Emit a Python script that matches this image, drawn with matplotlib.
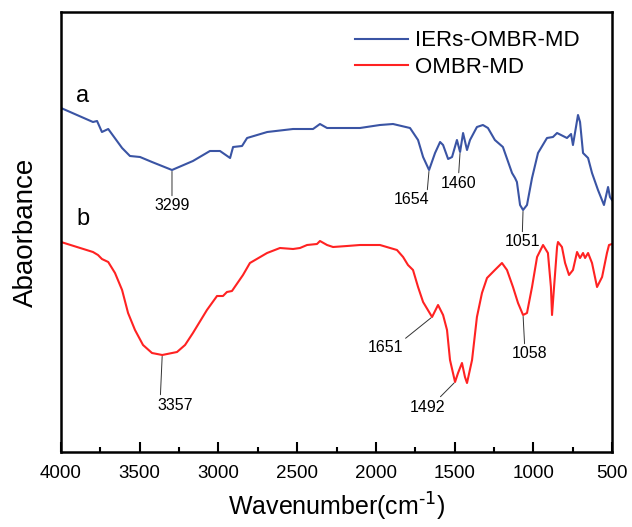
import numpy as np
import matplotlib
matplotlib.use("Agg")
import matplotlib.pyplot as plt
from matplotlib.ticker import MultipleLocator

plt.rcParams['font.family'] = ['Liberation Sans', 'DejaVu Sans']

# curve a: IERs-OMBR-MD (arbitrary absorbance units)
wn_a = [4000, 3797, 3771, 3740, 3700, 3612, 3562, 3498, 3422, 3295, 3162, 3054,
        2990, 2926, 2907, 2850, 2818, 2690, 2526, 2399, 2355, 2310, 2101, 1974,
        1891, 1783, 1732, 1700, 1662, 1624, 1592, 1573, 1541, 1516, 1485, 1465,
        1446, 1421, 1402, 1358, 1320, 1288, 1244, 1193, 1135, 1116, 1104, 1084,
        1065, 1040, 1008, 970, 913, 875, 849, 786, 760, 748, 716, 703, 684, 652,
        627, 589, 551, 525, 513, 500]
abs_a = [3.44, 3.30, 3.31, 3.20, 3.23, 3.04, 2.96, 2.95, 2.90, 2.82, 2.91, 3.01,
         3.01, 2.94, 3.05, 3.06, 3.14, 3.20, 3.23, 3.23, 3.28, 3.24, 3.24, 3.27,
         3.28, 3.24, 3.12, 2.95, 2.82, 2.99, 3.10, 3.07, 2.93, 2.95, 3.12, 3.00,
         3.19, 3.02, 3.12, 3.25, 3.27, 3.24, 3.12, 3.05, 2.79, 2.74, 2.70, 2.47,
         2.42, 2.47, 2.74, 2.99, 3.14, 3.15, 3.19, 3.14, 3.18, 3.07, 3.37, 3.30,
         2.99, 2.94, 2.79, 2.62, 2.47, 2.65, 2.55, 2.52]

# curve b: OMBR-MD
wn_b = [4000, 3797, 3765, 3740, 3700, 3657, 3612, 3574, 3530, 3479, 3422, 3357,
        3263, 3212, 3162, 3073, 3009, 2971, 2946, 2914, 2844, 2800, 2691, 2609,
        2526, 2482, 2437, 2374, 2355, 2310, 2272, 2183, 2101, 1974, 1866, 1827,
        1796, 1764, 1732, 1700, 1643, 1605, 1573, 1548, 1529, 1497, 1478, 1453,
        1434, 1421, 1389, 1358, 1326, 1294, 1244, 1199, 1167, 1129, 1097, 1065,
        1040, 1008, 976, 938, 907, 888, 881, 868, 849, 843, 818, 798, 773, 748,
        722, 703, 684, 671, 652, 627, 595, 563, 532, 519, 500]
abs_b = [2.10, 2.00, 1.97, 1.93, 1.90, 1.79, 1.62, 1.39, 1.22, 1.07, 0.99, 0.97,
         1.00, 1.07, 1.19, 1.42, 1.56, 1.56, 1.60, 1.61, 1.77, 1.89, 1.99, 2.04,
         2.03, 2.04, 2.07, 2.08, 2.11, 2.07, 2.05, 2.06, 2.07, 2.07, 2.02, 1.95,
         1.87, 1.82, 1.65, 1.50, 1.35, 1.47, 1.37, 1.22, 0.92, 0.70, 0.79, 0.89,
         0.75, 0.69, 0.92, 1.35, 1.59, 1.74, 1.82, 1.89, 1.82, 1.65, 1.49, 1.37,
         1.39, 1.65, 1.95, 2.07, 1.99, 1.65, 1.37, 1.65, 2.05, 2.10, 2.05, 1.89,
         1.77, 1.82, 2.00, 1.94, 1.99, 1.94, 1.99, 1.89, 1.65, 1.75, 1.99, 2.07,
         2.08]

# peak labels: (text, position on curve)
peaks_a = [("3299", 3295), ("1654", 1662), ("1460", 1465), ("1051", 1065)]
peaks_b = [("3357", 3357), ("1651", 1643), ("1492", 1497), ("1058", 1065)]

# label offsets in pixels and where the leader leaves the text
offs_a = [((0, -36), (0.5, 0.5)), ((-18, -30), (0.95, 1)),
          ((-2, -31), (0.5, 0.5)), ((-1, -32), (0.5, 0.5))]
offs_b = [((13, -50), (0.08, 1)), ((-47, -31), (1, 1)),
          ((-28, -25), (0.8, 1)), ((7, -39), (0.35, 1))]

blue = '#3A54A4'
red = '#FF2222'

fig = plt.figure(figsize=(6.32, 5.27), dpi=100)
ax = fig.add_axes([61 / 632, 1 - 452 / 527, 551 / 632, 440 / 527])

ax.plot(wn_a, abs_a, color=blue, lw=1.5, label='IERs-OMBR-MD')
ax.plot(wn_b, abs_b, color=red, lw=1.5, label='OMBR-MD')

for (txt, pos), (off, rp) in zip(peaks_a, offs_a):
    y = np.interp(pos, wn_a[::-1], abs_a[::-1])
    ax.annotate(txt, xy=(pos, y), xytext=off, textcoords='offset pixels',
                ha='center', va='center', fontsize=11.5,
                arrowprops=dict(arrowstyle='-', lw=0.7, color='#333333',
                                shrinkA=0, shrinkB=1, relpos=rp))
for (txt, pos), (off, rp) in zip(peaks_b, offs_b):
    y = np.interp(pos, wn_b[::-1], abs_b[::-1])
    ax.annotate(txt, xy=(pos, y), xytext=off, textcoords='offset pixels',
                ha='center', va='center', fontsize=11.5,
                arrowprops=dict(arrowstyle='-', lw=0.7, color='#333333',
                                shrinkA=0, shrinkB=1, relpos=rp))

ax.text(0.04, 0.81, 'a', transform=ax.transAxes, fontsize=17, ha='center', va='center')
ax.text(0.04, 0.53, 'b', transform=ax.transAxes, fontsize=17, ha='center', va='center')

ax.set_xlim(4000, 500)
ax.set_ylim(0, 4.4)
ax.xaxis.set_major_locator(MultipleLocator(500))
ax.xaxis.set_minor_locator(MultipleLocator(250))
ax.tick_params(axis='x', which='major', direction='in', length=7, width=1.5,
               labelsize=13.5, pad=9)
ax.tick_params(axis='x', which='minor', direction='in', length=3.5, width=1.5)
ax.set_yticks([])
for sp in ax.spines.values():
    sp.set_linewidth(1.8)

ax.set_xlabel('Wavenumber(cm$^{\\text{-1}}$)', fontsize=18, labelpad=7)
ax.set_ylabel('Abaorbance', fontsize=20, labelpad=16)

ax.legend(loc='upper left', bbox_to_anchor=((355 - 61) / 551, 0.958),
          frameon=False, fontsize=16, handlelength=2.4, handletextpad=0.3,
          labelspacing=0.25, borderpad=0, borderaxespad=0)

plt.savefig('out.png', dpi=100)
